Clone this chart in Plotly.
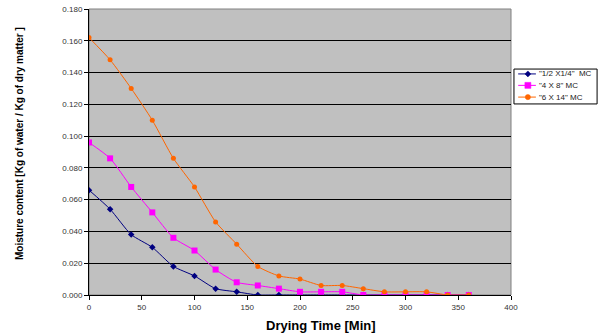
import plotly.graph_objects as go

time_min = [0, 20, 40, 60, 80, 100, 120, 140, 160, 180, 200, 220, 240, 260, 280, 300, 320, 340, 360]
mc_half = [0.066, 0.054, 0.038, 0.030, 0.018, 0.012, 0.004, 0.002, 0.000, 0.000, 0.000, 0.000, 0.000,
           0.000, 0.000, 0.000, 0.000, 0.000, 0.000]
mc_4x8 = [0.096, 0.086, 0.068, 0.052, 0.036, 0.028, 0.016, 0.008, 0.006, 0.004, 0.002, 0.002, 0.002,
          0.000, 0.000, 0.000, 0.000, 0.000, 0.000]
mc_6x14 = [0.162, 0.148, 0.130, 0.110, 0.086, 0.068, 0.046, 0.032, 0.018, 0.012, 0.010, 0.006, 0.006,
           0.004, 0.002, 0.002, 0.002, 0.000, 0.000]
names = ['"1/2 X1/4"\u00a0\u00a0MC', '"4 X 8" MC', '"6 X 14" MC']
colors = ["#000080", "#FF00FF", "#FF6600"]
symbols = ["diamond", "square", "circle"]
msizes = [5, 6, 5]
x_title = "Drying Time [Min]"
y_title = "Moisture content [Kg of water / Kg of dry matter ]"

fig = go.Figure()
for ys, nm, c, s, ms in zip([mc_half, mc_4x8, mc_6x14], names, colors, symbols, msizes):
    fig.add_trace(go.Scatter(
        x=time_min, y=ys, name=nm, mode="lines+markers", showlegend=False,
        line=dict(color=c, width=1, shape="spline", smoothing=0.6),
        marker=dict(symbol=s, size=ms, color=c),
    ))

# plot-area border
fig.add_shape(type="rect", xref="paper", yref="paper", x0=0, y0=0, x1=1, y1=1,
              line=dict(color="#808080", width=1), layer="below")

# manual legend (Excel style compact box)
fig.add_shape(type="rect", xref="paper", yref="paper", x0=1.007, x1=1.204, y0=0.668, y1=0.790,
              line=dict(color="black", width=1), fillcolor="white", layer="above")
rows_y = [0.773, 0.733, 0.692]
for nm, c, s, yy in zip(names, colors, symbols, rows_y):
    fig.add_shape(type="line", xref="paper", yref="paper", x0=1.017, x1=1.059, y0=yy, y1=yy,
                  line=dict(color=c, width=1), layer="above")
    common = dict(xref="paper", yref="paper", xsizemode="pixel", ysizemode="pixel",
                  xanchor=1.040, yanchor=yy, fillcolor=c, line=dict(color=c, width=0.5), layer="above")
    if s == "square":
        fig.add_shape(type="rect", x0=-3, x1=3, y0=-3, y1=3, **common)
    elif s == "diamond":
        fig.add_shape(type="path", path="M-3,0 L0,3 L3,0 L0,-3 Z", **common)
    else:
        fig.add_shape(type="circle", x0=-2.6, x1=2.6, y0=-2.6, y1=2.6, **common)
    fig.add_annotation(x=1.062, y=yy, xref="paper", yref="paper", xanchor="left", yanchor="middle",
                       text=nm, showarrow=False, font=dict(size=8, color="#222222"))

# axis titles positioned as in the reference
fig.add_annotation(x=0.55, y=-0.105, xref="paper", yref="paper", xanchor="center", yanchor="middle",
                   text="<b>" + x_title + "</b>", showarrow=False, font=dict(size=13, color="black"))
fig.add_annotation(x=-0.1635, y=0.528, xref="paper", yref="paper", xanchor="center", yanchor="middle",
                   textangle=-90, text="<b>" + y_title + "</b>", showarrow=False,
                   font=dict(size=10, color="black"))

fig.update_layout(
    width=598, height=336,
    margin=dict(l=89, r=87, t=9, b=41, autoexpand=False),
    paper_bgcolor="white", plot_bgcolor="#C0C0C0",
    font=dict(family="Arial, Liberation Sans, sans-serif", size=8, color="#333333"),
    showlegend=False,
    xaxis=dict(range=[0, 400], dtick=50, showgrid=False, zeroline=False,
               showline=True, linecolor="black", linewidth=1,
               ticks="outside", ticklen=4, tickcolor="black", automargin=False),
    yaxis=dict(range=[0, 0.18], dtick=0.02, tickformat=".3f", showgrid=True, gridcolor="black",
               gridwidth=1, zeroline=False, showline=True, linecolor="black", linewidth=1,
               ticks="outside", ticklen=4, tickcolor="black", automargin=False),
)

fig.write_html("out.html")
